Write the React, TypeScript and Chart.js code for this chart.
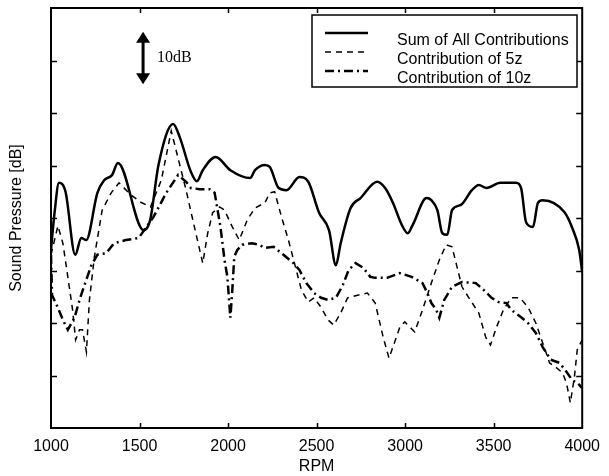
import React, { useEffect, useRef } from "react";
import { Chart, registerables } from "chart.js";

Chart.register(...registerables);

const xTicks = [1000, 1500, 2000, 2500, 3000, 3500, 4000];
const yTicks = [10, 20, 30, 40, 50, 60, 70];

const sumRpm = [1000, 1020, 1045, 1082, 1137, 1171, 1199, 1262, 1300, 1345, 1378, 1523, 1560, 1607, 1690, 1727, 1790, 1824, 1857, 1930, 2013, 2124, 2152, 2208, 2236, 2286, 2330, 2403, 2453, 2514, 2570, 2609, 2636, 2692, 2748, 2842, 2887, 2931, 2981, 3015, 3043, 3121, 3148, 3182, 3210, 3238, 3265, 3315, 3377, 3416, 3460, 3538, 3627, 3655, 3683, 3722, 3750, 3777, 3900, 3944, 3983, 4000];
const sumDb = [34, 41, 46.7, 45.0, 33.0, 36.2, 35.8, 44.8, 47.2, 48.2, 50.5, 37.7, 39.6, 50.1, 57.9, 55.4, 48.8, 47.0, 49.1, 51.6, 49.1, 47.6, 49.1, 50.1, 49.7, 45.7, 45.3, 47.8, 46.9, 41.0, 37.7, 31.0, 35.2, 41.9, 43.8, 46.9, 45.7, 42.9, 38.7, 37.1, 38.7, 43.8, 43.4, 41.5, 37.1, 36.8, 41.5, 42.5, 45.3, 46.3, 45.7, 46.7, 46.7, 45.7, 39.2, 38.3, 42.9, 43.4, 41.1, 38.1, 33.9, 29.7];

const fiveRpm = [1000, 1039, 1067, 1095, 1122, 1139, 1161, 1178, 1200, 1217, 1245, 1289, 1340, 1384, 1451, 1507, 1562, 1623, 1679, 1763, 1801, 1857, 1885, 1913, 1952, 1980, 2024, 2063, 2108, 2152, 2208, 2236, 2263, 2302, 2341, 2375, 2414, 2453, 2486, 2525, 2564, 2597, 2636, 2675, 2731, 2787, 2831, 2876, 2909, 2970, 2998, 3054, 3098, 3148, 3193, 3232, 3265, 3293, 3321, 3360, 3416, 3455, 3482, 3516, 3555, 3599, 3649, 3694, 3738, 3777, 3816, 3850, 3889, 3911, 3933, 3956, 3972, 4000];
const fiveDb = [33.0, 38.5, 35.2, 28.8, 22.5, 16.8, 18.7, 18.7, 14.5, 24.4, 32.6, 41.5, 44.8, 46.7, 44.4, 43.0, 42.1, 47.2, 56.6, 45.3, 39.6, 31.4, 37.1, 41.0, 42.1, 41.5, 38.3, 35.8, 39.6, 41.9, 42.9, 44.8, 45.0, 40.2, 35.8, 31.4, 26.3, 24.0, 24.8, 23.0, 20.6, 19.6, 21.9, 24.8, 25.3, 25.7, 23.8, 17.3, 13.3, 19.2, 20.2, 18.3, 22.5, 27.6, 32.0, 34.9, 34.5, 30.7, 26.9, 24.8, 21.9, 17.3, 15.8, 19.2, 22.5, 24.8, 24.8, 23.0, 20.0, 16.2, 12.4, 11.6, 10.5, 8.6, 4.8, 9.7, 14.9, 16.8];

const tenRpm = [1000, 1006, 1039, 1067, 1095, 1134, 1161, 1189, 1228, 1262, 1312, 1356, 1423, 1495, 1579, 1651, 1718, 1763, 1790, 1840, 1896, 1924, 1941, 1957, 1980, 1996, 2013, 2024, 2035, 2052, 2080, 2135, 2174, 2208, 2258, 2302, 2369, 2403, 2442, 2486, 2525, 2564, 2609, 2648, 2681, 2720, 2764, 2803, 2831, 2898, 2970, 3037, 3098, 3126, 3148, 3176, 3193, 3221, 3265, 3321, 3399, 3443, 3488, 3527, 3572, 3599, 3655, 3694, 3738, 3777, 3822, 3872, 3905, 3944, 3972, 4000];
const tenDb = [33.0, 25.3, 22.9, 20.6, 18.7, 21.1, 24.4, 27.2, 31.0, 33.0, 33.3, 35.2, 35.8, 36.2, 40.2, 44.8, 48.2, 46.9, 45.7, 45.5, 45.5, 44.8, 41.5, 38.3, 32.0, 28.8, 21.0, 26.3, 32.6, 33.9, 34.9, 35.2, 34.9, 34.3, 34.5, 33.3, 31.4, 30.1, 27.6, 25.7, 24.8, 24.4, 24.8, 27.2, 30.1, 31.4, 30.5, 28.8, 28.6, 28.6, 29.5, 28.8, 27.6, 25.7, 23.8, 22.5, 21.0, 24.4, 26.9, 27.8, 27.6, 26.3, 24.8, 24.0, 23.8, 22.5, 21.1, 20.0, 18.1, 15.4, 13.0, 12.4, 11.0, 9.1, 8.6, 7.6];

const seriesLabels = ["Sum of All Contributions", "Contribution of 5z", "Contribution of 10z"];
const arrowRpm = 1520;
const arrowLow = 65.5;
const arrowHigh = 75.5;
const arrowLabel = "10dB";

const FONT = "'Liberation Sans', Arial, Helvetica, sans-serif";

const pts = (xs: number[], ys: number[]) => xs.map((x, i) => ({ x, y: ys[i] }));

const overlay = {
  id: "overlay",
  afterDraw(chart: any) {
    const { ctx, chartArea, scales } = chart;
    const { left, right, top, bottom } = chartArea;
    const x = scales.x;
    const y = scales.y;
    ctx.save();
    ctx.setLineDash([]);
    ctx.strokeStyle = "#000";
    ctx.fillStyle = "#000";
    ctx.lineWidth = 2;
    ctx.strokeRect(left, top, right - left, bottom - top);

    ctx.lineWidth = 1.5;
    ctx.beginPath();
    xTicks.slice(1, -1).forEach((v) => {
      const px = Math.round(x.getPixelForValue(v)) + 0.5;
      ctx.moveTo(px, bottom);
      ctx.lineTo(px, bottom - 5);
      ctx.moveTo(px, top);
      ctx.lineTo(px, top + 5);
    });
    yTicks.forEach((v) => {
      const py = Math.round(y.getPixelForValue(v)) + 0.5;
      ctx.moveTo(left, py);
      ctx.lineTo(left + 6, py);
      ctx.moveTo(right, py);
      ctx.lineTo(right - 6, py);
    });
    ctx.stroke();

    // 10 dB arrow
    const ax = x.getPixelForValue(arrowRpm);
    const aTop = y.getPixelForValue(arrowHigh);
    const aBot = y.getPixelForValue(arrowLow);
    ctx.lineWidth = 3;
    ctx.beginPath();
    ctx.moveTo(ax, aTop + 8);
    ctx.lineTo(ax, aBot - 8);
    ctx.stroke();
    ctx.beginPath();
    ctx.moveTo(ax, aTop);
    ctx.lineTo(ax - 7, aTop + 11);
    ctx.lineTo(ax + 7, aTop + 11);
    ctx.closePath();
    ctx.fill();
    ctx.beginPath();
    ctx.moveTo(ax, aBot);
    ctx.lineTo(ax - 7, aBot - 11);
    ctx.lineTo(ax + 7, aBot - 11);
    ctx.closePath();
    ctx.fill();
    ctx.font = "16px 'Liberation Serif', 'Times New Roman', serif";
    ctx.textBaseline = "middle";
    ctx.textAlign = "left";
    ctx.fillText(arrowLabel, ax + 14, (aTop + aBot) / 2);

    // legend
    const bx = 312, by = 15, bw = 265, bh = 72;
    ctx.fillStyle = "#fff";
    ctx.fillRect(bx, by, bw, bh);
    ctx.lineWidth = 1.5;
    ctx.strokeRect(bx, by, bw, bh);
    ctx.fillStyle = "#000";
    ctx.font = "16px " + FONT;
    chart.data.datasets.forEach((ds: any, i: number) => {
      const ly = by + 18 + i * 19;
      ctx.lineWidth = ds.borderWidth;
      ctx.setLineDash(ds.borderDash || []);
      ctx.beginPath();
      ctx.moveTo(325, ly);
      ctx.lineTo(368, ly);
      ctx.stroke();
      ctx.setLineDash([]);
      ctx.textBaseline = "middle";
      ctx.fillText(seriesLabels[i], 397, ly + 8);
    });
    ctx.restore();
  },
};

export default function App() {
  const ref = useRef<HTMLCanvasElement | null>(null);
  useEffect(() => {
    document.body.style.margin = "0";
    const chart = new Chart(ref.current as HTMLCanvasElement, {
      type: "line",
      data: {
        datasets: [
          {
            label: seriesLabels[0],
            data: pts(sumRpm, sumDb),
            borderColor: "#000",
            borderWidth: 2.5,
            pointRadius: 0,
            cubicInterpolationMode: "monotone",
            tension: 0.4,
            fill: false,
          },
          {
            label: seriesLabels[1],
            data: pts(fiveRpm, fiveDb),
            borderColor: "#000",
            borderWidth: 1.5,
            borderDash: [6, 5],
            pointRadius: 0,
            tension: 0,
            fill: false,
          },
          {
            label: seriesLabels[2],
            data: pts(tenRpm, tenDb),
            borderColor: "#000",
            borderWidth: 2.5,
            borderDash: [9, 4, 2, 4],
            pointRadius: 0,
            tension: 0,
            fill: false,
          },
        ],
      },
      options: {
        animation: false,
        responsive: false,
        devicePixelRatio: 1,
        layout: { padding: { top: 8, right: 20, left: 0, bottom: 0 } },
        plugins: { legend: { display: false }, tooltip: { enabled: false } },
        scales: {
          x: {
            type: "linear",
            min: 1000,
            max: 4000,
            afterFit: (s: any) => { s.height = 48; },
            afterBuildTicks: (s: any) => { s.ticks = xTicks.map((v) => ({ value: v })); },
            grid: { display: false, drawTicks: false },
            border: { display: false },
            ticks: { color: "#000", font: { family: FONT, size: 16 }, padding: 9, maxRotation: 0, callback: (v: any) => String(v) },
            title: { display: true, text: "RPM", color: "#000", font: { family: FONT, size: 16 }, padding: { top: 0, bottom: 0 } },
          },
          y: {
            type: "linear",
            min: 0,
            max: 80,
            afterFit: (s: any) => { s.width = 51; },
            afterBuildTicks: (s: any) => { s.ticks = yTicks.map((v) => ({ value: v })); },
            grid: { display: false, drawTicks: false },
            border: { display: false },
            ticks: { display: false },
            title: { display: true, text: "Sound Pressure [dB]", color: "#000", font: { family: FONT, size: 16 }, padding: { top: 7, bottom: 0 } },
          },
        },
      },
      plugins: [overlay],
    } as any);
    return () => chart.destroy();
  }, []);
  return (
    <div style={{ position: "absolute", left: 0, top: 0, width: 609, height: 476 }}>
      <canvas ref={ref} width={609} height={476} />
    </div>
  );
}
